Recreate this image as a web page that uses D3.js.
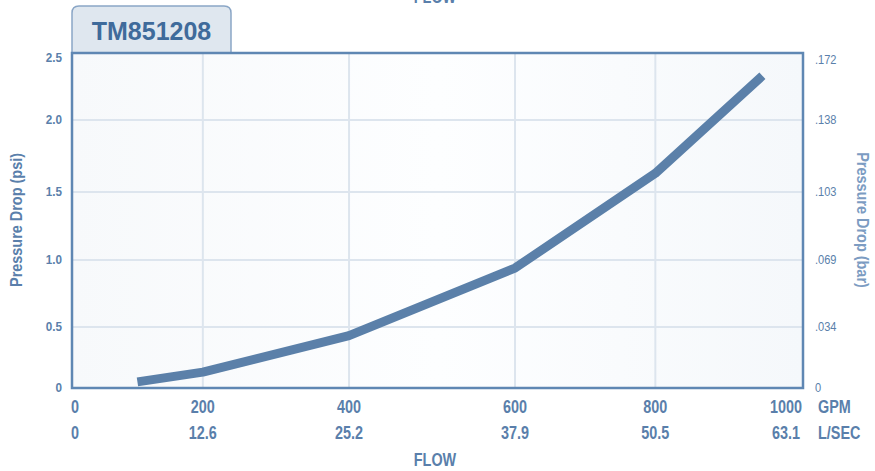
<!DOCTYPE html>
<html><head><meta charset="utf-8">
<script src="https://cdn.jsdelivr.net/npm/d3@7"></script>
<style>body{margin:0;background:#fff}svg{display:block}</style>
</head><body><svg id="c" width="875" height="471"></svg>
<script>
const title = "TM851208";
const gpmTicks = [0,200,400,600,800,1000];
const lsecLabels = ["0","12.6","25.2","37.9","50.5","63.1"];
const psiTicks = [0,0.5,1.0,1.5,2.0,2.5];
const psiLabels = ["0","0.5","1.0","1.5","2.0","2.5"];
const barLabels = ["0",".034",".069",".103",".138",".172"];
const flowGpm = [100,200,400,600,800,945];
const dropPsi = [0.05,0.13,0.43,0.94,1.63,2.33];

const svg = d3.select("#c");
const L=72,R=803,T=53,B=388;
const W=R-L,H=B-T;
const x = d3.scaleLinear().domain(gpmTicks).range([0,0.179,0.379,0.606,0.798,1].map(f=>L+f*W));
const y = d3.scaleLinear().domain(psiTicks).range([0,0.182,0.382,0.585,0.8,1].map(f=>B-f*H));
const txt="#5a7fab", font="'Liberation Sans',Arial,sans-serif";

function label(g, px, py, s, opts){
  opts = opts||{};
  return g.append("text")
    .attr("transform",`translate(${px},${py}) ${opts.rot?`rotate(${opts.rot})`:""} scale(${opts.sx||0.8},1)`)
    .attr("text-anchor",opts.anchor||"middle")
    .attr("font-family",font).attr("font-weight",opts.weight||"bold")
    .attr("font-size",opts.size||18).attr("fill",opts.fill||txt).text(s);
}

// tab
const tl=72,tr=231,tt=6,tb=T,r=7;
svg.append("path").attr("d",`M${tl},${tb} L${tl},${tt+r} Q${tl},${tt} ${tl+r},${tt} L${tr-r},${tt} Q${tr},${tt} ${tr},${tt+r} L${tr},${tb}`)
  .attr("fill","#dfe7ef").attr("stroke","#8aa6c6").attr("stroke-width",1.5);
svg.append("text").attr("x",(tl+tr)/2).attr("y",40).attr("text-anchor","middle")
  .attr("font-family",font).attr("font-weight","bold").attr("font-size",25)
  .attr("fill","#3f6b9b").text(title);

// plot background
const grad = svg.append("defs").append("linearGradient").attr("id","bg").attr("x1","0").attr("x2","1");
grad.append("stop").attr("offset","0").attr("stop-color","#f7f9fb");
grad.append("stop").attr("offset","0.5").attr("stop-color","#fdfeff");
grad.append("stop").attr("offset","1").attr("stop-color","#f5f8fb");
svg.append("rect").attr("x",L).attr("y",T).attr("width",W).attr("height",H).attr("fill","url(#bg)");

// grid
svg.append("g").selectAll("line").data(gpmTicks.slice(1,-1)).join("line")
  .attr("x1",d=>x(d)).attr("x2",d=>x(d)).attr("y1",T).attr("y2",B)
  .attr("stroke","#dde5ee").attr("stroke-width",2);
svg.append("g").selectAll("line").data(psiTicks.slice(1,-1)).join("line")
  .attr("x1",L).attr("x2",R).attr("y1",d=>y(d)).attr("y2",d=>y(d))
  .attr("stroke","#dde5ee").attr("stroke-width",2);

// frame
svg.append("rect").attr("x",L).attr("y",T).attr("width",W).attr("height",H)
  .attr("fill","none").attr("stroke","#5f87b3").attr("stroke-width",2.5);

// line
svg.append("path").datum(flowGpm.map((g,i)=>[g,dropPsi[i]]))
  .attr("d",d3.line().x(d=>x(d[0])).y(d=>y(d[1])))
  .attr("fill","none").attr("stroke","#5b80a9").attr("stroke-width",9).attr("stroke-linejoin","round");

// left y labels
const gl = svg.append("g");
psiTicks.forEach((d,i)=>label(gl,62,y(d)+(i===5?9:4),psiLabels[i],{anchor:"end",size:13,sx:0.9}));
// right y labels
const gr = svg.append("g");
psiTicks.forEach((d,i)=>label(gr,815,y(d)+(i===5?11:4),barLabels[i],{anchor:"start",size:13,sx:0.85,weight:"normal"}));

// x labels
const gx = svg.append("g");
gpmTicks.forEach((d,i)=>{
  const px = i===0?x(d)+3:(i===5?x(d)-17:x(d));
  label(gx,px,413,String(d));
  label(gx,px,439,lsecLabels[i]);
});
label(svg,818,413,"GPM",{anchor:"start"});
label(svg,818,439,"L/SEC",{anchor:"start"});
label(svg,435,466,"FLOW");
label(svg,435,3,"FLOW");

// axis titles
label(svg,22,220,"Pressure Drop (psi)",{rot:-90,size:17,sx:0.85});
label(svg,857,220,"Pressure Drop (bar)",{rot:90,size:17,sx:0.85,fill:"#7c9cc2"});
</script></body></html>
